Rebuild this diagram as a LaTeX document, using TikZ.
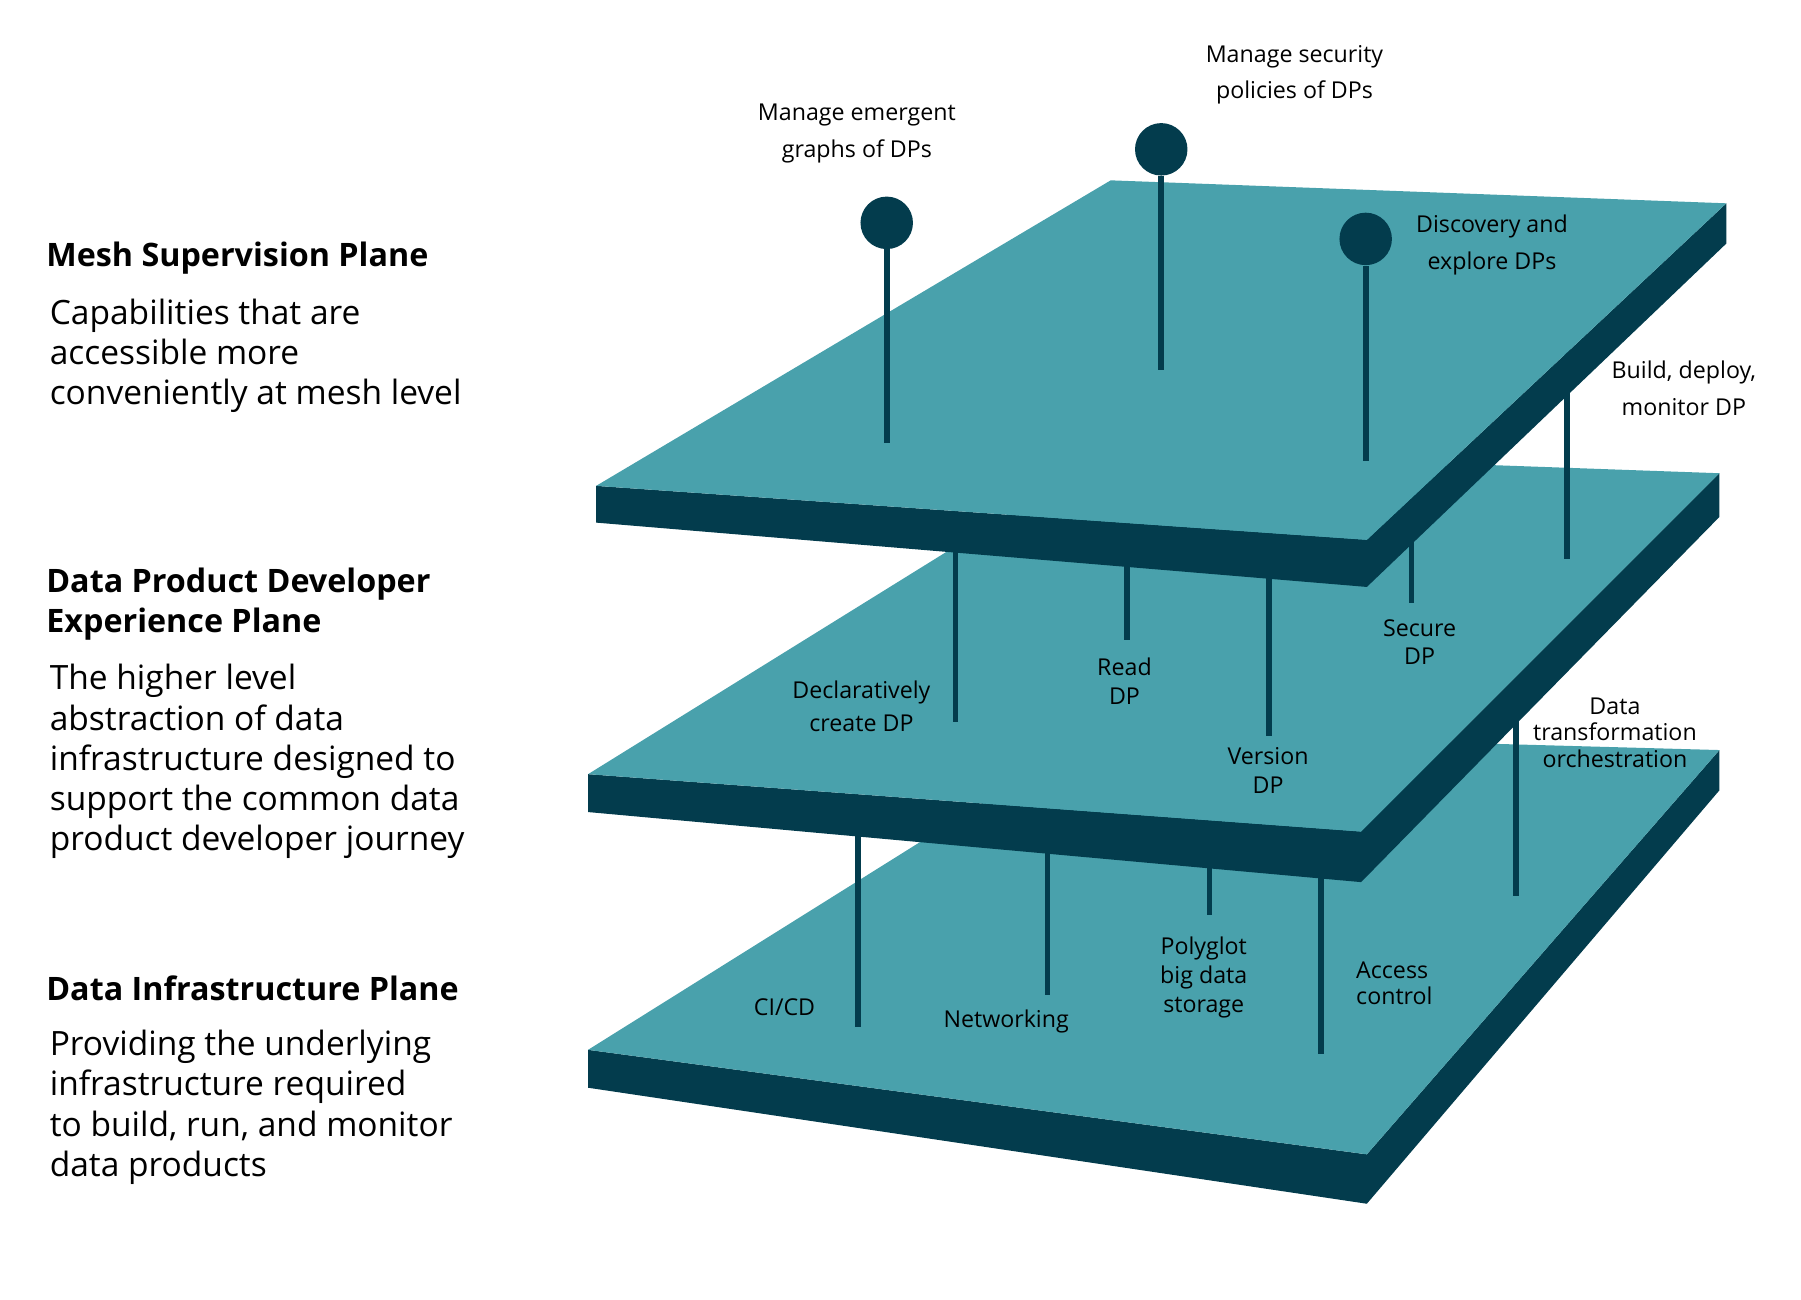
\documentclass[tikz,border=0pt]{standalone}
\usepackage{fontspec}
\setmainfont{Open Sans}
\usetikzlibrary{positioning}
\definecolor{planetop}{HTML}{49A1AC}
\definecolor{planeside}{HTML}{033C4D}

\begin{document}
\begin{tikzpicture}[x=0.2mm, y=-0.2mm,
	face/.style={fill=planetop},
	side/.style={fill=planeside},
	stem/.style={draw=planeside, line width=2.8pt},
	pin/.style={circle, fill=planeside, minimum size=26pt, inner sep=0pt},
	lbl/.style={align=center, font=\fontsize{11.5}{14.2}\selectfont},
	head/.style={anchor=west, align=left, inner sep=0pt, font=\fontsize{16}{19.9}\selectfont\bfseries},
	body/.style={anchor=west, align=left, inner sep=0pt, font=\fontsize{16.6}{19.9}\selectfont}]
	\useasboundingbox (0,0) rectangle (1568,1131);

	% left column
	\node[head] (h1) at (40,225) {Mesh Supervision Plane};
	\node[body] (b1) at (43,310) {Capabilities that are\\accessible more\\conveniently at mesh level};
	\node[head] (h2) at (40,526) {Data Product Developer\\Experience Plane};
	\node[body] (b2) at (43,663) {The higher level\\abstraction of data\\infrastructure designed to\\support the common data\\product developer journey};
	\node[head] (h3) at (40,860) {Data Infrastructure Plane};
	\node[body] (b3) at (43,964) {Providing the underlying\\infrastructure required\\to build, run, and monitor\\data products};

	% bottom plane
	\fill[side] (512,914) -- (1190,1005) -- (1497,653) -- (1497,688) -- (1190,1048) -- (512,947) -- cycle;
	\fill[face] (512,914) -- (953,638) -- (1497,653) -- (1190,1005) -- cycle;

	\coordinate (c0) at (747,700);  \coordinate (c1) at (747,894);
	\coordinate (n0) at (912,715);  \coordinate (n1) at (912,866);
	\coordinate (p0) at (1053,730); \coordinate (p1) at (1053,797);
	\coordinate (a0) at (1150,740); \coordinate (a1) at (1150,918);
	\coordinate (t0) at (1320,600); \coordinate (t1) at (1320,780);
	\draw[stem] (c0) -- (c1);
	\draw[stem] (n0) -- (n1);
	\draw[stem] (p0) -- (p1);
	\draw[stem] (a0) -- (a1);
	\draw[stem] (t0) -- (t1);
	\node[lbl] (cicd) at (683,877) {CI/CD};
	\node[lbl] (net) at (876,889) {Networking};
	\node[lbl] (poly) at (1048,851) {Polyglot\\big data\\storage};
	\node[lbl, align=left, font=\fontsize{11.5}{12.6}\selectfont] (acc) at (1214,856) {Access\\control};
	\node[lbl, font=\fontsize{11.5}{13}\selectfont] (orch) at (1406,638) {Data\\transformation\\orchestration};

	% middle plane
	\fill[side] (512,674) -- (1185,724) -- (1497,412) -- (1497,450) -- (1185,768) -- (512,707) -- cycle;
	\fill[face] (512,674) -- (965,393) -- (1497,412) -- (1185,724) -- cycle;

	\coordinate (d0) at (832,450);  \coordinate (d1) at (832,629);
	\coordinate (r0) at (981,460);  \coordinate (r1) at (981,557);
	\coordinate (v0) at (1105,470); \coordinate (v1) at (1105,641);
	\coordinate (s0) at (1229,460); \coordinate (s1) at (1229,525);
	\coordinate (u0) at (1364,300); \coordinate (u1) at (1364,487);
	\draw[stem] (d0) -- (d1);
	\draw[stem] (r0) -- (r1);
	\draw[stem] (v0) -- (v1);
	\draw[stem] (s0) -- (s1);
	\draw[stem] (u0) -- (u1);
	\node[lbl, font=\fontsize{11.5}{16}\selectfont] (decl) at (750,615) {Declaratively\\create DP};
	\node[lbl] (read) at (979,593) {Read\\DP};
	\node[lbl] (sec) at (1236,559) {Secure\\DP};
	\node[lbl] (ver) at (1104,671) {Version\\DP};

	% top plane
	\fill[side] (519,423) -- (1190,470) -- (1503,177) -- (1503,212) -- (1190,511) -- (519,455) -- cycle;
	\fill[face] (519,423) -- (967,157) -- (1503,177) -- (1190,470) -- cycle;
	\node[lbl, font=\fontsize{11.5}{18.2}\selectfont] (build) at (1466,338) {Build, deploy,\\monitor DP};

	\node[pin] (g) at (772,194) {};
	\node[pin] (m) at (1011,130) {};
	\node[pin] (e) at (1189,208) {};
	\coordinate (g1) at (772,386);
	\coordinate (m1) at (1011,322);
	\coordinate (e1) at (1189,401);
	\draw[stem] (g) -- (g1);
	\draw[stem] (m) -- (m1);
	\draw[stem] (e) -- (e1);
	\node[lbl, font=\fontsize{11.5}{18.2}\selectfont] (gl) at (746,116) {Manage emergent\\graphs of DPs};
	\node[lbl, font=\fontsize{11.5}{18.2}\selectfont] (ml) at (1127,65) {Manage security\\policies of DPs};
	\node[lbl, font=\fontsize{11.5}{18.2}\selectfont] (el) at (1299,213) {Discovery and\\explore DPs};
\end{tikzpicture}
\end{document}
